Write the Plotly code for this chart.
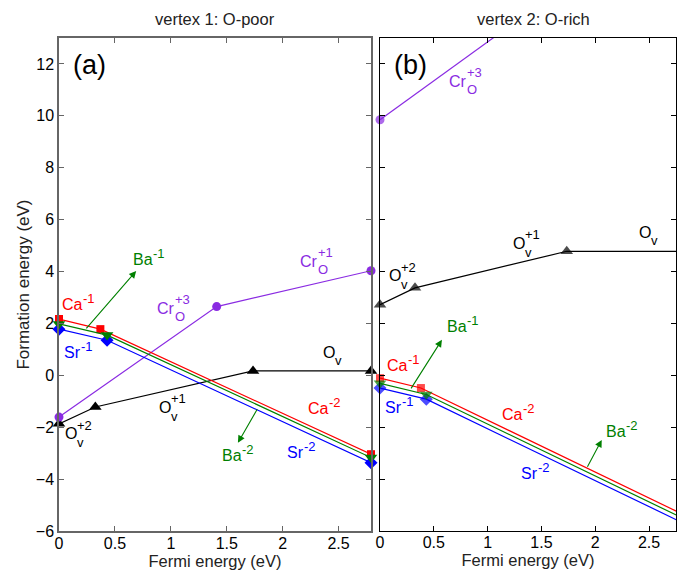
import plotly.graph_objects as go

# ---------------- data ----------------
# vertex 1: O-poor (left panel)
ca_x1 = [0.0, 0.37, 2.79]; ca_y1 = [2.17, 1.78, -3.04]
ba_x1 = [0.0, 0.43, 2.79]; ba_y1 = [1.98, 1.55, -3.17]
sr_x1 = [0.0, 0.43, 2.79]; sr_y1 = [1.78, 1.35, -3.37]
cr_x1 = [0.0, 1.41, 2.79]; cr_y1 = [-1.61, 2.65, 4.03]
ov_x1 = [0.0, 0.325, 1.735, 2.79]; ov_y1 = [-1.87, -1.22, 0.17, 0.17]

# vertex 2: O-rich (right panel)
ca_x2 = [0.0, 0.38, 2.79]; ca_y2 = [-0.11, -0.49, -5.31]
ba_x2 = [0.0, 0.43, 2.79]; ba_y2 = [-0.31, -0.74, -5.46]
sr_x2 = [0.0, 0.43, 2.79]; sr_y2 = [-0.49, -0.92, -5.64]
cr_x2 = [0.0, 1.20]; cr_y2 = [9.85, 13.45]
ov_x2 = [0.0, 0.325, 1.735, 2.79]; ov_y2 = [2.72, 3.37, 4.78, 4.78]

x_ticks = [0, 0.5, 1, 1.5, 2, 2.5]
x_tick_text = ["0", "0.5", "1", "1.5", "2", "2.5"]
y_ticks = [-6, -4, -2, 0, 2, 4, 6, 8, 10, 12]

RED = "#ff0000"; GREEN = "#008000"; BLUE = "#0000ff"; PURPLE = "#8a2be2"; BLACK = "#000000"
FONT = "Liberation Sans, Arial, sans-serif"

fig = go.Figure()

def series(x, y, color, symbol, size, ax, msizes=None):
    xa = "x" if ax == 1 else "x2"
    ya = "y" if ax == 1 else "y2"
    fig.add_trace(go.Scatter(
        x=x, y=y, mode="lines+markers", xaxis=xa, yaxis=ya,
        line=dict(color=color, width=1.2),
        marker=dict(color=color, symbol=symbol,
                    size=msizes if msizes is not None else size, line=dict(width=0)),
        cliponaxis=False, showlegend=False, hoverinfo="skip"))

# left panel
series(ov_x1, ov_y1, BLACK, "triangle-up", 11, 1)
series(cr_x1, cr_y1, PURPLE, "circle", 9, 1)
series(ca_x1, ca_y1, RED, "square", 8, 1)
series(sr_x1, sr_y1, BLUE, "diamond", 10, 1)
series(ba_x1, ba_y1, GREEN, "triangle-down", 11, 1)
# right panel (end points beyond the visible range have no marker)
series(ov_x2, ov_y2, BLACK, "triangle-up", 11, 2, [11, 11, 11, 0])
series(cr_x2, cr_y2, PURPLE, "circle", 9, 2, [9, 0])
series(ca_x2, ca_y2, RED, "square", 8, 2, [8, 8, 0])
series(sr_x2, sr_y2, BLUE, "diamond", 10, 2, [10, 10, 0])
series(ba_x2, ba_y2, GREEN, "triangle-down", 11, 2, [11, 11, 0])

ann = []

def lab(ax, x, y, base, color, sup=None, sub=None, sup_dy=8, sub_dy=-8, size=16, ssize=13):
    xr = "x" if ax == 1 else "x2"
    yr = "y" if ax == 1 else "y2"
    ann.append(dict(x=x, y=y, xref=xr, yref=yr, text=base, showarrow=False,
                    xanchor="right", yanchor="middle", borderpad=0, xshift=1,
                    font=dict(size=size, color=color, family=FONT)))
    if sup:
        ann.append(dict(x=x, y=y, xref=xr, yref=yr, text=sup, showarrow=False,
                        xanchor="left", yanchor="middle", yshift=sup_dy, xshift=-1,
                        borderpad=0, font=dict(size=ssize, color=color, family=FONT)))
    if sub:
        ann.append(dict(x=x, y=y, xref=xr, yref=yr, text=sub, showarrow=False,
                        xanchor="left", yanchor="middle", yshift=sub_dy, xshift=-1,
                        borderpad=0, font=dict(size=ssize, color=color, family=FONT)))

def arrow(ax, x0, y0, x1, y1, color):
    xr = "x" if ax == 1 else "x2"
    yr = "y" if ax == 1 else "y2"
    ann.append(dict(x=x1, y=y1, ax=x0, ay=y0, xref=xr, yref=yr, axref=xr, ayref=yr,
                    text="", showarrow=True, arrowhead=2, arrowsize=1.3,
                    arrowwidth=1.1, arrowcolor=color))

# left panel labels
lab(1, 0.215, 2.72, "Ca", RED, sup="-1", sup_dy=6)
lab(1, 0.20, 0.88, "Sr", BLUE, sup="-1", sup_dy=6)
lab(1, 0.84, 4.48, "Ba", GREEN, sup="-1", sup_dy=6)
arrow(1, 0.233, 1.75, 0.69, 4.02, GREEN)
lab(1, 1.04, 2.56, "Cr", PURPLE, sup="+3", sub="O", sup_dy=9, sub_dy=-8)
lab(1, 2.32, 4.39, "Cr", PURPLE, sup="+1", sub="O", sup_dy=9, sub_dy=-8)
lab(1, 1.00, -1.23, "O", BLACK, sup="+1", sub="v", sup_dy=9, sub_dy=-9)
lab(1, 0.16, -2.25, "O", BLACK, sup="+2", sub="v", sup_dy=8, sub_dy=-9)
lab(1, 2.47, 0.88, "O", BLACK, sub="v", sub_dy=-8)
lab(1, 2.41, -1.26, "Ca", RED, sup="-2", sup_dy=6)
lab(1, 2.19, -2.96, "Sr", BLUE, sup="-2", sup_dy=6)
lab(1, 1.64, -3.09, "Ba", GREEN, sup="-2", sup_dy=6)
arrow(1, 1.78, -1.25, 1.60, -2.6, GREEN)

# right panel labels
lab(2, 0.81, 11.32, "Cr", PURPLE, sup="+3", sub="O", sup_dy=9, sub_dy=-8)
lab(2, 0.195, 3.83, "O", BLACK, sup="+2", sub="v", sup_dy=8, sub_dy=-9)
lab(2, 1.35, 5.09, "O", BLACK, sup="+1", sub="v", sup_dy=9, sub_dy=-9)
lab(2, 2.52, 5.52, "O", BLACK, sub="v", sub_dy=-8)
lab(2, 0.81, 1.88, "Ba", GREEN, sup="-1", sup_dy=6)
arrow(2, 0.28, -0.56, 0.575, 1.37, GREEN)
lab(2, 0.256, 0.37, "Ca", RED, sup="-1", sup_dy=6)
lab(2, 0.204, -1.24, "Sr", BLUE, sup="-1", sup_dy=6)
lab(2, 1.33, -1.52, "Ca", RED, sup="-2", sup_dy=6)
lab(2, 2.29, -2.17, "Ba", GREEN, sup="-2", sup_dy=6)
arrow(2, 1.92, -3.58, 2.06, -2.49, GREEN)
lab(2, 1.47, -3.77, "Sr", BLUE, sup="-2", sup_dy=6)

# panel tags
ann.append(dict(x=0.11, y=12.6, xref="x", yref="y", text="(a)", showarrow=False,
                xanchor="left", yanchor="top", font=dict(size=27, color=BLACK, family=FONT)))
ann.append(dict(x=0.11, y=12.6, xref="x2", yref="y2", text="(b)", showarrow=False,
                xanchor="left", yanchor="top", font=dict(size=27, color=BLACK, family=FONT)))

# titles
ann.append(dict(x=0.5, y=1.0, xref="x domain", yref="paper", yshift=8, text="vertex 1: O-poor",
                showarrow=False, xanchor="center", yanchor="bottom",
                font=dict(size=16.5, color="#222", family=FONT)))
ann.append(dict(x=0.52, y=1.0, xref="x2 domain", yref="paper", yshift=8, text="vertex 2: O-rich",
                showarrow=False, xanchor="center", yanchor="bottom",
                font=dict(size=16.5, color="#222", family=FONT)))

L_LINE = "#666666"
axis_common = dict(ticks="inside", ticklen=5, tickwidth=1, showline=True, mirror="ticks",
                   showgrid=False, zeroline=False,
                   tickfont=dict(size=16, color=BLACK, family=FONT))

fig.update_layout(
    width=677, height=571,
    margin=dict(l=59, r=1, t=38, b=40),
    plot_bgcolor="white", paper_bgcolor="white",
    annotations=ann,
    xaxis=dict(domain=[0, 0.5057], range=[0, 2.79], tickvals=x_ticks, ticktext=x_tick_text,
               linecolor=L_LINE, linewidth=1.5, tickcolor=L_LINE, ticklabelstandoff=-3,
               title=dict(text="Fermi energy (eV)", standoff=0,
                          font=dict(size=16.5, color="#222", family=FONT)),
               anchor="y", **axis_common),
    yaxis=dict(domain=[0, 1], range=[-6, 13], tickvals=y_ticks,
               linecolor=L_LINE, linewidth=1.5, tickcolor=L_LINE,
               title=dict(text="Formation energy (eV)", standoff=2,
                          font=dict(size=17, color="#222", family=FONT)),
               anchor="x", **axis_common),
    xaxis2=dict(domain=[0.5203, 1], range=[0, 2.75], tickvals=x_ticks, ticktext=x_tick_text,
                linecolor=BLACK, linewidth=1, tickcolor=BLACK, ticklabelstandoff=-3,
                title=dict(text="Fermi energy (eV)", standoff=0,
                           font=dict(size=16.5, color="#222", family=FONT)),
                anchor="y2", **axis_common),
    yaxis2=dict(domain=[0, 1], range=[-6, 13], tickvals=y_ticks, showticklabels=False,
                linecolor=BLACK, linewidth=1, tickcolor=BLACK,
                anchor="x2", **axis_common),
)

fig.write_html("out.html")
